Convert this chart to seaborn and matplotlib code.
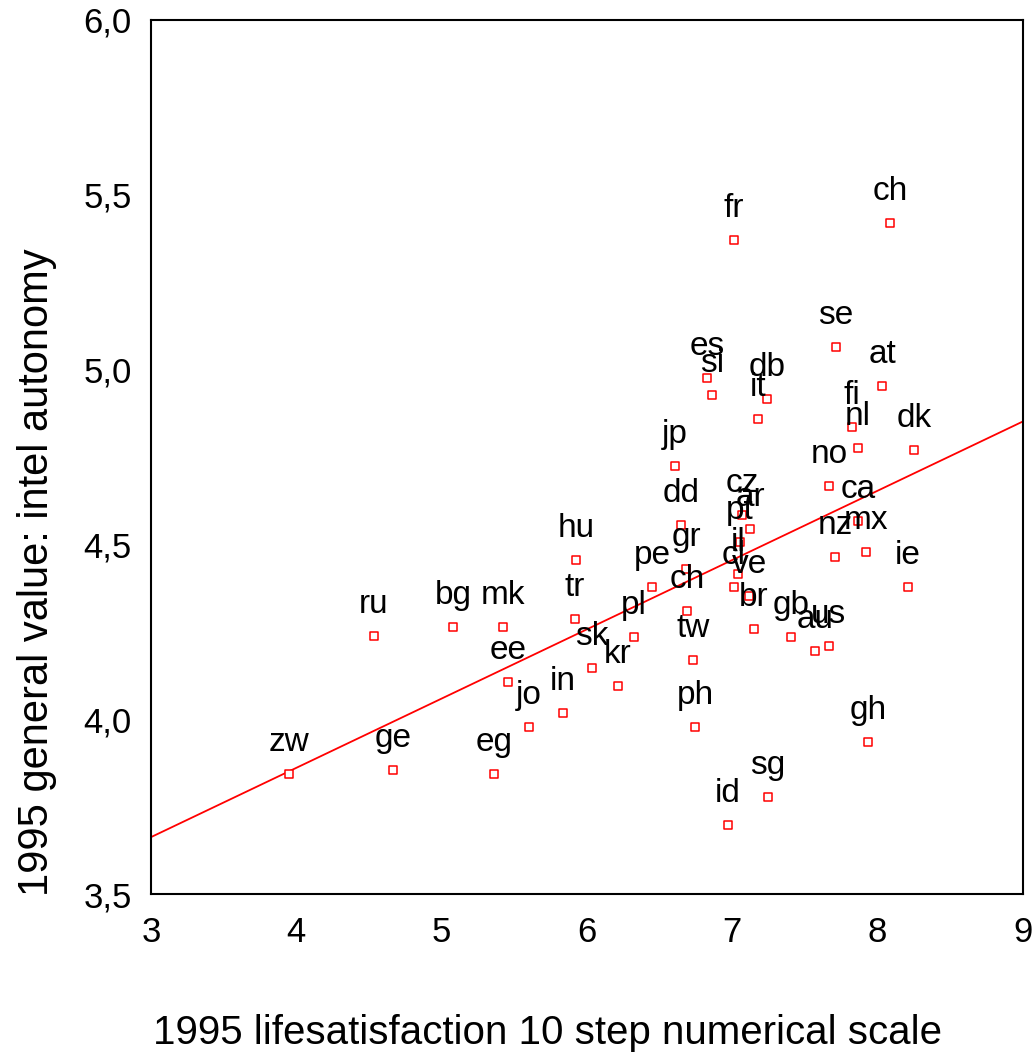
import matplotlib
matplotlib.use("Agg")
import matplotlib.pyplot as plt
import numpy as np
import pandas as pd
import seaborn as sns

# country codes, life satisfaction (x) and intellectual autonomy (y), 1995
countries = ["zw", "ge", "ru", "bg", "mk", "eg", "ee", "jo", "in", "hu",
             "tr", "sk", "kr", "pl", "pe", "gr", "dd", "jp", "ch", "tw",
             "ph", "id", "sg", "fr", "es", "si", "db", "it", "cz", "ar",
             "pt", "il", "cl", "ve", "br", "gb", "au", "us", "no", "ca",
             "nz", "mx", "ie", "gh", "se", "at", "fi", "nl", "dk", "ch"]
lifesat = [3.95, 4.665, 4.534, 5.078, 5.422, 5.36, 5.456, 5.601, 5.835, 5.924,
           5.917, 6.034, 6.213, 6.323, 6.447, 6.681, 6.647, 6.606, 6.688, 6.729,
           6.743, 6.97, 7.245, 7.012, 6.826, 6.86, 7.239, 7.177, 7.067, 7.122,
           7.053, 7.039, 7.012, 7.115, 7.149, 7.404, 7.569, 7.665, 7.665, 7.865,
           7.707, 7.92, 8.209, 7.934, 7.713, 8.03, 7.824, 7.865, 8.25, 8.085]
autonomy = [3.843, 3.855, 4.238, 4.264, 4.264, 3.843, 4.106, 3.978, 4.018, 4.455,
            4.287, 4.146, 4.095, 4.235, 4.378, 4.43, 4.555, 4.724, 4.31, 4.169,
            3.978, 3.697, 3.777, 5.371, 4.976, 4.927, 4.916, 4.859, 4.584, 4.544,
            4.507, 4.415, 4.378, 4.352, 4.258, 4.235, 4.195, 4.209, 4.667, 4.567,
            4.464, 4.478, 4.378, 3.935, 5.065, 4.953, 4.836, 4.776, 4.77, 5.419]

x_ticks = [3, 4, 5, 6, 7, 8, 9]
y_ticks = [3.5, 4.0, 4.5, 5.0, 5.5, 6.0]

df = pd.DataFrame({"country": countries, "lifesat": lifesat, "autonomy": autonomy})

sns.set_theme(style="white")
plt.rcParams["font.family"] = ["Liberation Sans", "DejaVu Sans"]

fig = plt.figure(figsize=(10.36, 10.55), dpi=100)
ax = fig.add_axes([151 / 1036, 1 - 894 / 1055, 872 / 1036, 874 / 1055])
ax.set_xlim(3, 9)
ax.set_ylim(3.5, 6.0)

# OLS line across the full x range
sns.regplot(data=df, x="lifesat", y="autonomy", ax=ax, scatter=False, ci=None,
            truncate=False, color="red", line_kws={"linewidth": 1.3})
sns.scatterplot(data=df, x="lifesat", y="autonomy", ax=ax, marker="s", s=28,
                facecolor="white", edgecolor="red", linewidth=1.1, zorder=3)

for c, xv, yv in zip(countries, lifesat, autonomy):
    ax.annotate(c, (xv, yv), xytext=(0, 16.5), textcoords="offset points",
                ha="center", va="baseline", fontsize=24, color="black")

ax.set_xticks(x_ticks)
ax.set_xticklabels([str(t) for t in x_ticks])
ax.set_yticks(y_ticks)
ax.set_yticklabels([f"{t:.1f}".replace(".", ",") for t in y_ticks])
ax.tick_params(axis="both", length=0, labelsize=25, colors="black")
ax.tick_params(axis="y", pad=14)
ax.tick_params(axis="x", pad=16)

for sp in ax.spines.values():
    sp.set_color("black")
    sp.set_linewidth(1.5)

ax.set_xlabel("1995 lifesatisfaction 10 step numerical scale", fontsize=29, color="black")
ax.set_ylabel("1995 general value: intel autonomy", fontsize=30, color="black")
ax.xaxis.set_label_coords(0.455, -0.137)
ax.yaxis.set_label_coords(-0.108, 0.368)

fig.savefig("out.png", dpi=100, facecolor="white")
